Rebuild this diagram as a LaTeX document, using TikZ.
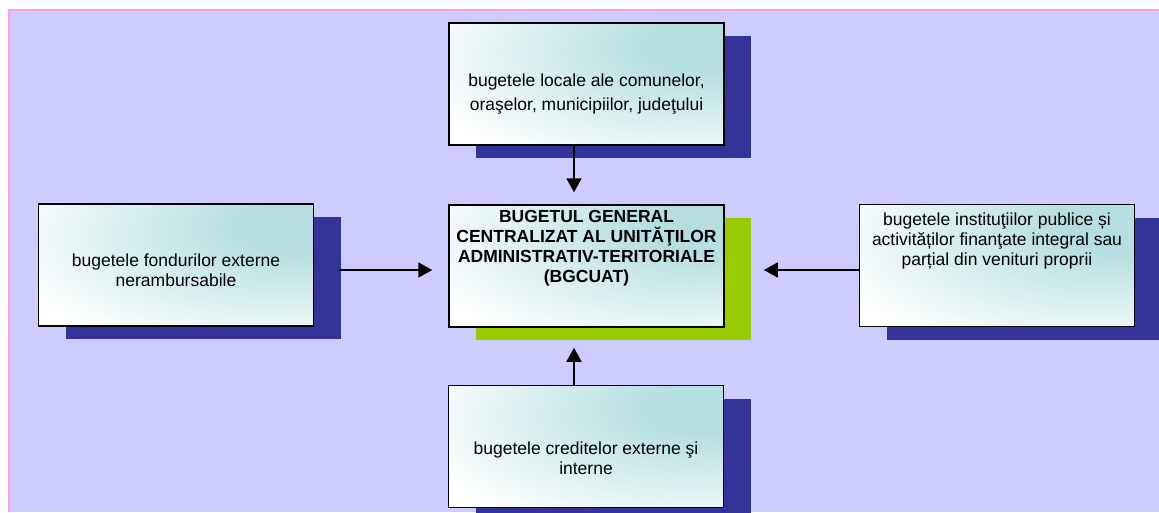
\documentclass[tikz,border=0pt]{standalone}
\usepackage{fontspec}
\setmainfont{Liberation Sans}
\usetikzlibrary{arrows.meta,shadows}
\definecolor{bgviolet}{RGB}{204,204,255}
\definecolor{framepink}{RGB}{255,153,255}
\definecolor{shadenavy}{RGB}{51,51,153}
\definecolor{shadegreen}{RGB}{153,204,0}
\definecolor{boxteal}{RGB}{180,222,224}
\pgfdeclareradialshading{cornerteal}{\pgfpoint{25bp}{18bp}}{color(0bp)=(boxteal); color(10bp)=(boxteal); color(46bp)=(white); color(100bp)=(white)}
\newcommand{\boxtxt}[2]{\parbox[c][118pt][t]{262pt}{\centering\vspace*{#1}#2}}

\begin{document}
\begin{tikzpicture}[x=1pt,y=-1pt,
  budget/.style={draw=black,line width=1.5pt,minimum width=275pt,minimum height=122pt,inner sep=0pt,
    shade,shading=cornerteal,
    general shadow={fill=#1,shadow xshift=27pt,shadow yshift=-13pt},
    font=\fontsize{17.5}{20}\selectfont},
  budget/.default=shadenavy,
  feed/.style={line width=1.8pt,-{Triangle[length=14pt,width=15pt]}}]
        \useasboundingbox (0,0) rectangle (1159,512);
        \fill [bgviolet] (8,9) rectangle (1159,512);
        \draw [framepink,line width=2pt] (9,512) -- (9,10) -- (1159,10);
        \node (local) at (586.5,84) [budget] {\boxtxt{49pt}{bugetele locale ale comunelor,\\[4pt] oraşelor, municipiilor, judeţului}};
        \node (bgcuat) at (586.5,266) [budget=shadegreen] {\boxtxt{3pt}{\bfseries BUGETUL GENERAL\\ CENTRALIZAT AL UNITĂŢILOR\\ ADMINISTRATIV-TERITORIALE\\ (BGCUAT)}};
        \node (extern) at (176,265) [budget] {\boxtxt{48pt}{bugetele fondurilor externe\\ nerambursabile}};
        \node (inst) at (997,265.5) [budget] {\boxtxt{6pt}{bugetele instituţiilor publice și\\ activităților finanţate integral sau\\ parțial din venituri proprii}};
        \node (credit) at (586,446.5) [budget] {\boxtxt{54pt}{bugetele creditelor externe şi\\ interne}};
        \draw [feed] ([xshift=-12.5pt]local.south) -- ([xshift=-12.5pt,yshift=12pt]bgcuat.north);
        \draw [feed] ([xshift=-12pt]credit.north) -- ([xshift=-12.5pt,yshift=-20pt]bgcuat.south);
        \draw [feed] ([xshift=25pt,yshift=-5pt]extern.east) -- ([xshift=-16pt,yshift=-4pt]bgcuat.west);
        \draw [feed] ([yshift=-4.5pt]inst.west) -- ([xshift=39pt,yshift=-4pt]bgcuat.east);
      \end{tikzpicture}
\end{document}
